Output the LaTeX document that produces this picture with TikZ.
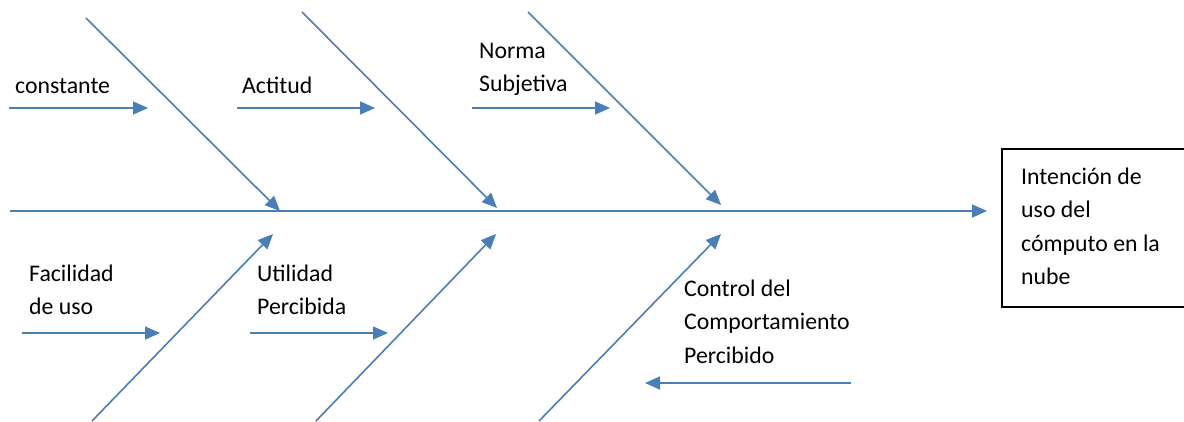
\documentclass[tikz,border=0pt]{standalone}
\usepackage{fontspec}
\setmainfont{Carlito}
\usetikzlibrary{arrows.meta}
\definecolor{fishblue}{HTML}{4A7EBB}
\begin{document}
\begin{tikzpicture}[x=1pt,y=-1pt,
  bone/.style={draw=fishblue,line width=1.6pt,-{Triangle[length=15pt,width=13pt]}},
  lbl/.style={anchor=base west,inner sep=0pt,align=left,font=\fontsize{23.8}{33.5}\selectfont},
  effectbox/.style={draw=black,line width=1.6pt,minimum width=300pt,minimum height=158pt,anchor=north west,inner sep=0pt}]
\useasboundingbox (0,0) rectangle (1184,421);
% effect box (its right side lies outside the picture, as in the reference)
\node[effectbox] (box) at (1001,148) {};
\node[lbl] (effect) at (1021,284.5) {Intención de\\uso del\\cómputo en la\\nube};
% spine
\coordinate (s0) at (10,211);
\coordinate (s1) at (987,211);
\draw[bone] (s0) -- (s1);
% main bones upper
\coordinate (u1a) at (86,18);  \coordinate (u1b) at (280,211);
\coordinate (u2a) at (302,12); \coordinate (u2b) at (497,208);
\coordinate (u3a) at (528,12); \coordinate (u3b) at (721,205);
\draw[bone] (u1a) -- (u1b);
\draw[bone] (u2a) -- (u2b);
\draw[bone] (u3a) -- (u3b);
% main bones lower
\coordinate (d1a) at (92,421);  \coordinate (d1b) at (273,234);
\coordinate (d2a) at (316,421); \coordinate (d2b) at (496,234);
\coordinate (d3a) at (539,421); \coordinate (d3b) at (721,234);
\draw[bone] (d1a) -- (d1b);
\draw[bone] (d2a) -- (d2b);
\draw[bone] (d3a) -- (d3b);
% small arrows
\coordinate (h1a) at (9,108);   \coordinate (h1b) at (148,108);
\coordinate (h2a) at (237,108); \coordinate (h2b) at (375,108);
\coordinate (h3a) at (472,108); \coordinate (h3b) at (610,108);
\coordinate (h4a) at (22,333);  \coordinate (h4b) at (160,333);
\coordinate (h5a) at (250,333); \coordinate (h5b) at (388,333);
\coordinate (h6a) at (851,383); \coordinate (h6b) at (645,383);
\draw[bone] (h1a) -- (h1b);
\draw[bone] (h2a) -- (h2b);
\draw[bone] (h3a) -- (h3b);
\draw[bone] (h4a) -- (h4b);
\draw[bone] (h5a) -- (h5b);
\draw[bone] (h6a) -- (h6b);
% labels (anchored at the baseline of the last line)
\node[lbl] (constante) at (15,93) {constante};
\node[lbl] (actitud) at (242,93) {Actitud};
\node[lbl] (norma) at (479,91.5) {Norma\\Subjetiva};
\node[lbl] (facilidad) at (29,314.5) {Facilidad\\de uso};
\node[lbl] (utilidad) at (257,314.5) {Utilidad\\Percibida};
\node[lbl] (control) at (684,363) {Control del\\Comportamiento\\Percibido};
\end{tikzpicture}
\end{document}
